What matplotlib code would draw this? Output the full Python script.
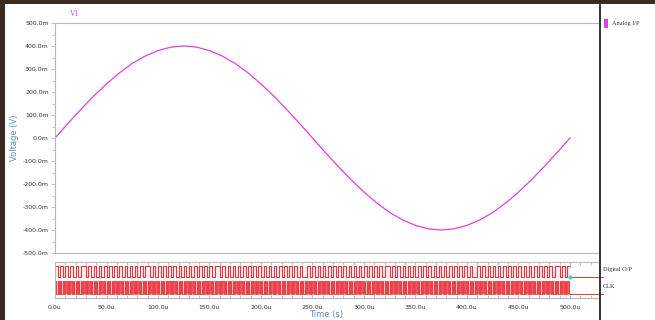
import numpy as np
import matplotlib
matplotlib.use("Agg")
import matplotlib.pyplot as plt
from matplotlib.patches import Rectangle
from matplotlib.lines import Line2D

# ---------------- data ----------------
t_analog_us = [i * 12.5 for i in range(41)]
v_analog_mv = [0, 63, 124, 182, 235, 283, 324, 356, 380, 395, 400, 395, 380, 356, 324, 283,
               235, 182, 124, 63, 0, -63, -124, -182, -235, -283, -324, -356, -380, -395,
               -400, -395, -380, -356, -324, -283, -235, -182, -124, -63, 0]

y_ticks_mv = [500, 400, 300, 200, 100, 0, -100, -200, -300, -400, -500]
y_tick_labels = ["500.0m", "400.0m", "300.0m", "200.0m", "100.0m", "0.0m",
                 "-100.0m", "-200.0m", "-300.0m", "-400.0m", "-500.0m"]
x_ticks_us = [0, 50, 100, 150, 200, 250, 300, 350, 400, 450, 500]
x_tick_labels = ["0.0u", "50.0u", "100.0u", "150.0u", "200.0u", "250.0u",
                 "300.0u", "350.0u", "400.0u", "450.0u", "500.0u"]

sim_end_us = 500
# digital output bits, one per clock cycle
dout_chunks = ["10101010101101010101", "01010101010101011010", "10101010101010101010",
               "10110101010101010101", "01010101010101010010", "10101010101010101010",
               "10101010110101010101", "01010101010101010101", "01001010101010101010",
               "10101010101010110101"]
dout_bits = "".join(dout_chunks)
clk_pattern = "10"  # high half, low half of each clock cycle

series_names = ["Analog I/P", "Digital O/P", "CLK"]

# ---------------- style ----------------
magenta = "#e040e0"
red_line = "#e8343c"
red_fill = "#f25a5f"
label_blue = "#5a8cc4"
grey = "#b8b8b8"
txt = "#333333"

fig = plt.figure(figsize=(6.55, 3.2), dpi=100)
fig.patch.set_facecolor("white")

W, H = 655.0, 320.0
x0, x1 = 55, 598
xmax_us = 500 * (x1 - x0) / (570 - x0)

# ---- main analog axes ----
ax = fig.add_axes([x0 / W, 1 - 253 / H, (x1 - x0) / W, (253 - 23) / H])
ax.plot(t_analog_us, v_analog_mv, color=magenta, lw=0.9)
ax.set_xlim(0, xmax_us)
ax.set_ylim(-500, 500)
ax.set_yticks(y_ticks_mv)
ax.set_yticklabels(y_tick_labels)
ax.set_yticks([v + 50 for v in y_ticks_mv[1:]], minor=True)
ax.set_xticks([])
ax.tick_params(axis="y", which="major", length=3, width=0.6, color=grey,
               labelsize=4.5, labelcolor=txt, pad=1.5)
ax.tick_params(axis="y", which="minor", length=2, width=0.6, color=grey)
for s in ["left", "top", "bottom"]:
    ax.spines[s].set_color(grey)
    ax.spines[s].set_linewidth(0.8)
ax.spines["right"].set_visible(False)
ax.set_ylabel("Voltage (V)", color=label_blue, fontsize=6, labelpad=3)
ax.text(0.037, 1.02, "V1", transform=ax.transAxes, color=magenta, fontsize=5.5,
        family="Liberation Serif", ha="center", va="bottom")

# ---- digital axes ----
dax = fig.add_axes([x0 / W, 1 - 298 / H, (x1 - x0) / W, (298 - 262) / H])
dax.set_xlim(0, xmax_us)
dax.set_ylim(0, 36)

n = len(dout_bits)
clk_period_us = sim_end_us / n

# Digital O/P: levels 21 (low) .. 32 (high)
edges = [i * clk_period_us for i in range(n + 1)]
d_lvl = [32 if b == "1" else 21 for b in dout_bits]
d_lvl.append(d_lvl[-1])
dax.fill_between([0, sim_end_us], 21, 32, color="#fdeaea", lw=0)
dax.step(edges, d_lvl, where="post", color=red_line, lw=0.75)

# CLK: levels 4 (low) .. 17 (high)
half = clk_period_us / 2
c_edges, c_lvl = [], []
for i in range(n):
    for j, b in enumerate(clk_pattern):
        c_edges.append(i * clk_period_us + j * half)
        c_lvl.append(17 if b == "1" else 4)
c_edges.append(n * clk_period_us)
c_lvl.append(4)
dax.fill_between([0, sim_end_us], 4, 17, color="#fbc8c8", lw=0)
dax.fill_between(c_edges, 4, c_lvl, step="post", color=red_fill, lw=0)
dax.step(c_edges, c_lvl, where="post", color=red_line, lw=0.6)

# traces continuing beyond end of simulation
dax.plot([sim_end_us, xmax_us * 1.01], [21, 21], color="#d04040", lw=0.7, clip_on=False)
dax.plot([sim_end_us, xmax_us * 1.01], [4, 4], color="#d04040", lw=0.7, clip_on=False)
dax.plot([sim_end_us], [21], marker="o", ms=2, color="#40d0d0", clip_on=False)

dax.set_yticks([])
dax.set_xticks(x_ticks_us)
dax.set_xticklabels(x_tick_labels)
dax.set_xticks([v for v in range(0, int(xmax_us) + 1, 10) if v % 50], minor=True)
dax.tick_params(axis="x", which="both", top=True, bottom=True, direction="in",
                length=2.5, width=0.6, color=grey, labelsize=4.5, labelcolor=txt, pad=5)
for s in ["left", "top", "bottom"]:
    dax.spines[s].set_color(grey)
    dax.spines[s].set_linewidth(0.8)
dax.spines["right"].set_visible(False)
dax.set_xlabel("Time (s)", color=label_blue, fontsize=6, labelpad=0)

# ---- legend panel and frame ----
fig.add_artist(Line2D([600 / W, 600 / W], [0, 1 - 5 / H], transform=fig.transFigure,
                      color="#111111", lw=1.2))
fig.add_artist(Rectangle((0, 0), 5 / W, 1, transform=fig.transFigure,
                         color="#3a2a20", lw=0))
fig.add_artist(Rectangle((0, 1 - 4 / H), 1, 4 / H, transform=fig.transFigure,
                         color="#3a2a20", lw=0))
fig.add_artist(Rectangle((604 / W, 1 - 28 / H), 4 / W, 9 / H, transform=fig.transFigure,
                         color=magenta, lw=0))
fig.text(612 / W, 1 - 23.5 / H, series_names[0], fontsize=4.5, family="Liberation Serif",
         color=txt, va="center")
fig.text(603 / W, 1 - 269 / H, series_names[1], fontsize=4.5, family="Liberation Serif",
         color=txt, va="center")
fig.text(603 / W, 1 - 286 / H, series_names[2], fontsize=4.5, family="Liberation Serif",
         color=txt, va="center")

fig.savefig("out.png", dpi=100, facecolor="white")
